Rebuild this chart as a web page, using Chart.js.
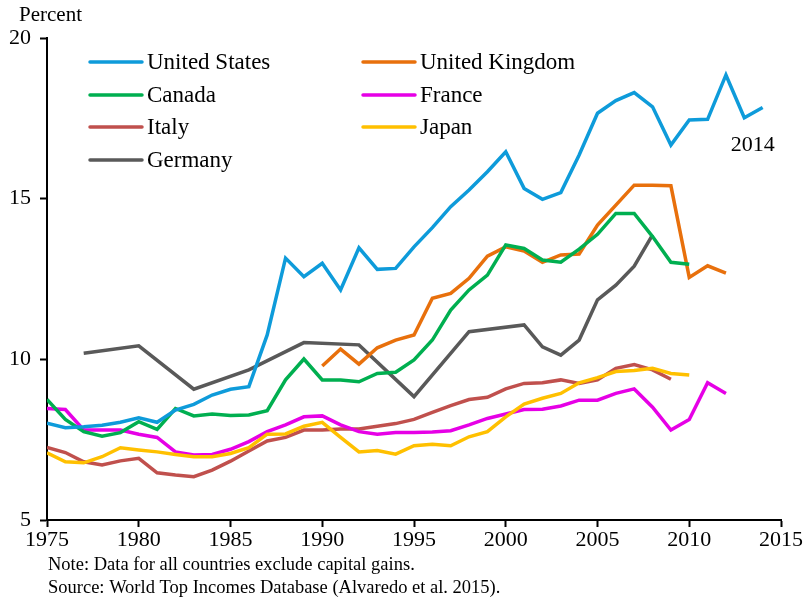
<!DOCTYPE html>
<html>
<head>
<meta charset="utf-8">
<script src="https://cdn.jsdelivr.net/npm/chart.js@4.4.0/dist/chart.umd.min.js"></script>
<style>
    html, body { margin: 0; padding: 0; background: #ffffff; }
    #wrap { width: 807px; height: 602px; }
</style>
</head>
<body>
<div id="wrap"><canvas id="incomeChart" width="807" height="602"></canvas></div>
<script>
// Données (part du revenu, en %)
const years = [1975, 1976, 1977, 1978, 1979, 1980, 1981, 1982, 1983, 1984, 1985, 1986, 1987, 1988, 1989,
    1990, 1991, 1992, 1993, 1994, 1995, 1996, 1997, 1998, 1999, 2000, 2001, 2002, 2003, 2004,
    2005, 2006, 2007, 2008, 2009, 2010, 2011, 2012, 2013, 2014];

const unitedStates = [8.01, 7.87, 7.90, 7.95, 8.04, 8.18, 8.04, 8.42, 8.60, 8.89, 9.07, 9.15, 10.76, 13.15, 12.57,
    12.99, 12.16, 13.47, 12.80, 12.83, 13.50, 14.10, 14.75, 15.27, 15.84, 16.46, 15.32, 14.98, 15.19, 16.36,
    17.66, 18.05, 18.30, 17.86, 16.67, 17.45, 17.47, 18.85, 17.52, 17.84];

const unitedKingdom = [null, null, null, null, null, null, null, null, null, null, null, null, null, null, null,
    9.79, 10.32, 9.85, 10.36, 10.60, 10.76, 11.90, 12.05, 12.52, 13.21, 13.50, 13.37, 13.02, 13.25, 13.28,
    14.18, 14.80, 15.42, 15.42, 15.40, 12.55, 12.91, 12.68, null, null];

const canada = [8.75, 8.13, 7.75, 7.61, 7.72, 8.06, 7.82, 8.47, 8.24, 8.30, 8.25, 8.27, 8.40, 9.36, 10.01,
    9.36, 9.36, 9.30, 9.56, 9.60, 9.98, 10.60, 11.53, 12.16, 12.62, 13.56, 13.45, 13.09, 13.02, 13.43,
    13.89, 14.54, 14.54, 13.82, 13.02, 12.96, null, null, null, null];

const france = [8.47, 8.44, 7.80, 7.80, 7.80, 7.67, 7.57, 7.12, 7.02, 7.04, 7.20, 7.44, 7.75, 7.96, 8.21,
    8.24, 7.96, 7.75, 7.67, 7.72, 7.72, 7.74, 7.78, 7.96, 8.16, 8.30, 8.44, 8.45, 8.55, 8.73,
    8.73, 8.94, 9.08, 8.51, 7.80, 8.13, 9.27, 8.94, null, null];

const italy = [7.26, 7.10, 6.81, 6.71, 6.84, 6.92, 6.47, 6.40, 6.35, 6.55, 6.83, 7.15, 7.46, 7.57, 7.80,
    7.80, 7.83, 7.83, 7.92, 8.00, 8.13, 8.35, 8.56, 8.75, 8.82, 9.08, 9.25, 9.27, 9.36, 9.25,
    9.36, 9.72, 9.84, 9.67, 9.38, null, null, null, null, null];

const japan = [7.09, 6.81, 6.78, 6.97, 7.25, 7.18, 7.12, 7.04, 6.97, 6.97, 7.07, 7.25, 7.67, 7.68, 7.92,
    8.04, 7.57, 7.12, 7.16, 7.05, 7.31, 7.36, 7.31, 7.59, 7.75, 8.21, 8.61, 8.79, 8.94, 9.27,
    9.43, 9.62, 9.65, 9.72, 9.56, 9.51, null, null, null, null];

// Allemagne : une valeur tous les 3 ans jusqu'en 2001, puis annuelle
const germanyYears = [1977, 1980, 1983, 1986, 1989, 1992, 1995, 1998, 2001, 2002, 2003, 2004, 2005, 2006, 2007, 2008];
const germany = [10.19, 10.42, 9.07, 9.67, 10.52, 10.45, 8.84, 10.86, 11.07, 10.39, 10.13, 10.60, 11.85, 12.31, 12.90, 13.87];

const yTicks = [5, 10, 15, 20];
const xTicks = [1975, 1980, 1985, 1990, 1995, 2000, 2005, 2010, 2015];

const noteLines = [
    'Note: Data for all countries exclude capital gains.',
    'Source: World Top Incomes Database (Alvaredo et al. 2015).'
];

const serif = '"Liberation Serif", "Times New Roman", serif';

function toPoints(xs, ys) {
    return xs.map((x, i) => ({ x: x, y: ys[i] }));
}

function makeSeries(label, xs, ys, color, order) {
    return {
        label: label,
        data: toPoints(xs, ys),
        borderColor: color,
        backgroundColor: color,
        borderWidth: 3.5,
        pointRadius: 0,
        tension: 0,
        spanGaps: true,
        order: order
    };
}

// Légende sur deux colonnes, dessinée à la main
const legendLayout = [
    { label: 'United States', col: 0, row: 0 },
    { label: 'United Kingdom', col: 1, row: 0 },
    { label: 'Canada', col: 0, row: 1 },
    { label: 'France', col: 1, row: 1 },
    { label: 'Italy', col: 0, row: 2 },
    { label: 'Japan', col: 1, row: 2 },
    { label: 'Germany', col: 0, row: 3 }
];

const textPlugin = {
    id: 'textPlugin',
    afterDraw(chart) {
        const ctx = chart.ctx;
        ctx.save();
        ctx.fillStyle = '#000000';
        ctx.textBaseline = 'middle';

        // Titre de l'axe Y
        ctx.font = '21px ' + serif;
        ctx.textAlign = 'left';
        ctx.fillText('Percent', 19, 15);

        // Légende
        const colX = [90, 363];
        const rowY = [62, 95, 127, 160];
        ctx.font = '23px ' + serif;
        legendLayout.forEach(item => {
            const ds = chart.data.datasets.find(d => d.label === item.label);
            const x = colX[item.col];
            const y = rowY[item.row];
            ctx.strokeStyle = ds.borderColor;
            ctx.lineWidth = 3.5;
            ctx.lineCap = 'round';
            ctx.beginPath();
            ctx.moveTo(x, y);
            ctx.lineTo(x + 52, y);
            ctx.stroke();
            ctx.fillStyle = '#000000';
            ctx.fillText(item.label, x + 57, y + 1);
        });

        // Annotation de la dernière année
        const xs = chart.scales.x;
        ctx.font = '22px ' + serif;
        ctx.textAlign = 'center';
        ctx.fillText('2014', xs.getPixelForValue(2014) - 10, 145);

        // Notes
        ctx.font = '18.5px ' + serif;
        ctx.textAlign = 'left';
        ctx.fillText(noteLines[0], 48, 565);
        ctx.fillText(noteLines[1], 48, 588);
        ctx.restore();
    }
};

document.addEventListener('DOMContentLoaded', function() {
    const ctx = document.getElementById('incomeChart').getContext('2d');

    new Chart(ctx, {
        type: 'line',
        data: {
            datasets: [
                makeSeries('United States', years, unitedStates, '#0E9BDA', 0),
                makeSeries('United Kingdom', years, unitedKingdom, '#E8700C', 2),
                makeSeries('Canada', years, canada, '#00AF50', 1),
                makeSeries('France', years, france, '#E600E6', 5),
                makeSeries('Italy', years, italy, '#C0504D', 6),
                makeSeries('Japan', years, japan, '#FFC000', 4),
                makeSeries('Germany', germanyYears, germany, '#595959', 3)
            ]
        },
        options: {
            responsive: false,
            animation: false,
            layout: {
                padding: { top: 38, right: 26, bottom: 46, left: 0 }
            },
            plugins: {
                legend: { display: false },
                tooltip: { enabled: false }
            },
            scales: {
                x: {
                    type: 'linear',
                    min: 1975,
                    max: 2015,
                    afterBuildTicks: function(scale) {
                        scale.ticks = xTicks.map(v => ({ value: v }));
                    },
                    afterFit: function(scale) {
                        scale.height = 36;
                    },
                    ticks: {
                        color: '#000000',
                        font: { family: serif, size: 22 },
                        padding: 0,
                        maxRotation: 0,
                        callback: v => String(v)
                    },
                    grid: {
                        drawOnChartArea: false,
                        drawTicks: true,
                        tickLength: 7,
                        tickColor: '#000000',
                        tickWidth: 2
                    },
                    border: { color: '#000000', width: 2 }
                },
                y: {
                    min: 5,
                    max: 20,
                    afterBuildTicks: function(scale) {
                        scale.ticks = yTicks.map(v => ({ value: v }));
                    },
                    afterFit: function(scale) {
                        scale.width = 47;
                    },
                    ticks: {
                        color: '#000000',
                        font: { family: serif, size: 22 },
                        padding: 9
                    },
                    grid: {
                        drawOnChartArea: false,
                        drawTicks: true,
                        tickLength: 7,
                        tickColor: '#000000',
                        tickWidth: 2
                    },
                    border: { color: '#000000', width: 2 }
                }
            }
        },
        plugins: [textPlugin]
    });
});
</script>
</body>
</html>
